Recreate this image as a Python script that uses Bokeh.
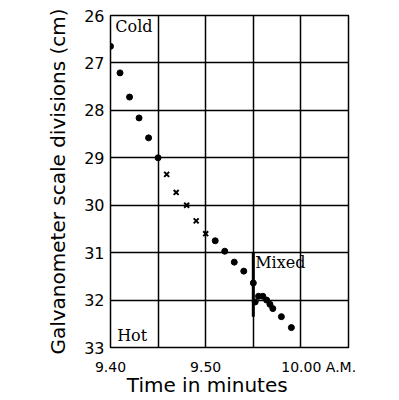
from bokeh.plotting import figure
from bokeh.models import Range1d, FixedTicker, Label
from bokeh.embed import file_html
from bokeh.resources import INLINE

# time in minutes after 9.40 A.M.
cold_t = [0, 1, 2, 3, 4, 5]
cold_y = [26.65, 27.21, 27.72, 28.16, 28.58, 29.0]
cross_t = [5.9, 6.9, 8.0, 9.0, 10.0]
cross_y = [29.35, 29.73, 30.0, 30.33, 30.6]
after_t = [11, 12, 13, 14, 15, 15.2, 15.55, 16.0, 16.4, 16.75, 17.05, 17.95, 19.0]
after_y = [30.75, 30.97, 31.2, 31.39, 31.64, 32.04, 31.92, 31.92, 32.0, 32.09, 32.18, 32.35, 32.58]
mixed_t = [15, 15]
mixed_y = [31.0, 32.35]
x_ticks = [0, 10, 20]
NB = "\u00a0"
x_tick_labels = ["9.40", "9.50", NB * 8 + "10.00 A.M."]
y_ticks = [26, 27, 28, 29, 30, 31, 32, 33]

p = figure(width=395, height=400, output_backend="svg", toolbar_location=None,
           x_range=Range1d(0, 25), y_range=Range1d(33, 26),
           min_border_left=110, min_border_right=47, min_border_top=15, min_border_bottom=53)
p.background_fill_color = "white"
p.border_fill_color = "white"
p.outline_line_color = "black"
p.outline_line_width = 1.5

p.xaxis.ticker = FixedTicker(ticks=x_ticks)
p.xaxis.major_label_overrides = {t: s for t, s in zip(x_ticks, x_tick_labels)}
p.yaxis.ticker = FixedTicker(ticks=y_ticks)
p.xgrid.ticker = FixedTicker(ticks=[5, 10, 15, 20])
p.ygrid.ticker = FixedTicker(ticks=y_ticks[1:-1])
for g in (p.xgrid, p.ygrid):
    g.grid_line_color = "black"
    g.grid_line_width = 1.5
    g.grid_line_alpha = 1.0

for ax in (p.xaxis, p.yaxis):
    ax.axis_line_color = None
    ax.major_tick_line_color = None
    ax.minor_tick_line_color = None
    ax.major_tick_out = 0
    ax.major_tick_in = 0
    ax.minor_tick_out = 0
    ax.minor_tick_in = 0
    ax.major_label_text_font = "DejaVu Sans"
    ax.major_label_text_color = "black"
    ax.axis_label_text_font = "DejaVu Sans"
    ax.axis_label_text_font_style = "normal"
    ax.axis_label_text_color = "black"

p.xaxis.major_label_text_font_size = "14px"
p.xaxis.major_label_standoff = 11
p.xaxis.axis_label = "Time in minutes" + NB * 7
p.xaxis.axis_label_text_font_size = "20px"
p.xaxis.axis_label_standoff = -5

p.yaxis.major_label_text_font_size = "16px"
p.yaxis.major_label_standoff = 6
p.yaxis.axis_label = "Galvanometer scale divisions (cm)"
p.yaxis.axis_label_text_font_size = "20px"
p.yaxis.axis_label_standoff = 11

p.scatter(cold_t, cold_y, size=6, color="black")
p.scatter(after_t, after_y, size=6, color="black")
p.scatter(cross_t, cross_y, marker="x", size=7, line_color="black", line_width=2)
p.line(mixed_t, mixed_y, line_color="black", line_width=3)

p.add_layout(Label(x=0.5, y=26.04, text="Cold", text_font="DejaVu Serif",
                   text_font_size="16px", text_baseline="top", text_color="black"))
p.add_layout(Label(x=0.7, y=32.95, text="Hot", text_font="DejaVu Serif",
                   text_font_size="16px", text_baseline="bottom", text_color="black"))
p.add_layout(Label(x=15.2, y=31.21, text="Mixed", text_font="DejaVu Serif",
                   text_font_size="16px", text_baseline="middle", text_color="black"))

open("out.html", "w").write(file_html(p, INLINE))
